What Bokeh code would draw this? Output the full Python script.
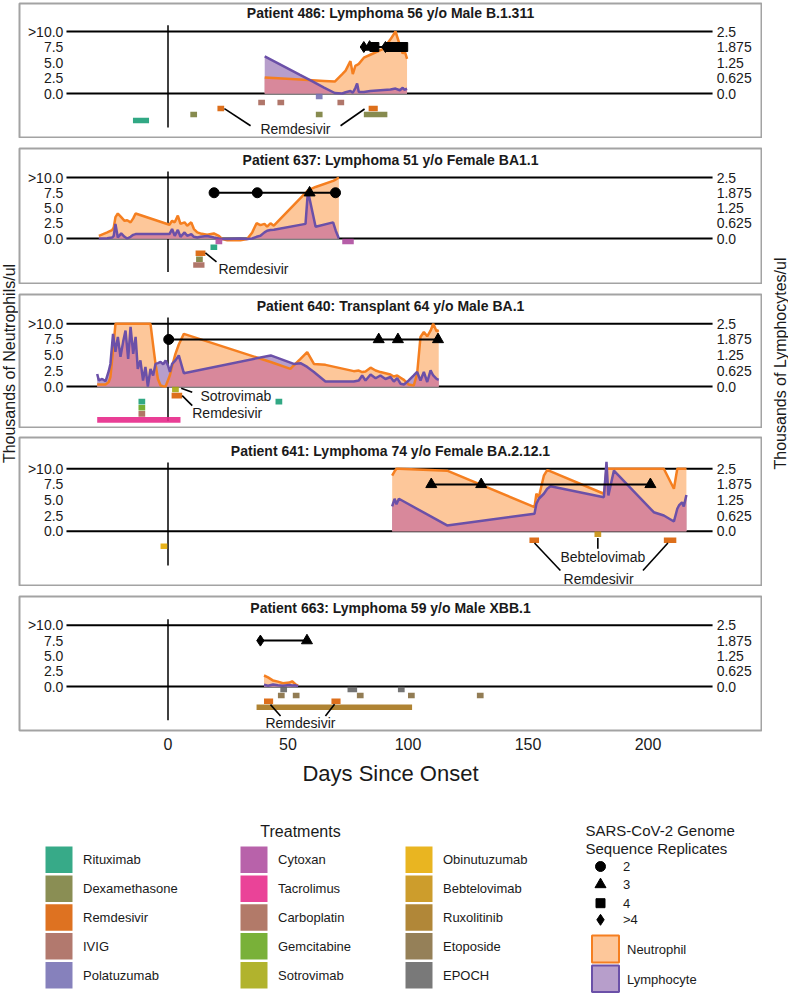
import numpy as np
from bokeh.plotting import figure
from bokeh.layouts import column, row
from bokeh.models import Range1d, FixedTicker
from bokeh.core.properties import value
from bokeh.embed import file_html
from bokeh.resources import INLINE

# ---------------------------------------------------------------- data
TREATMENTS = ["Rituximab", "Dexamethasone", "Remdesivir", "IVIG", "Polatuzumab",
              "Cytoxan", "Tacrolimus", "Carboplatin", "Gemcitabine", "Sotrovimab",
              "Obinutuzumab", "Bebtelovimab", "Ruxolitinib", "Etoposide", "EPOCH"]
TREATMENT_COLORS = ["#1b9e77", "#7a7e3c", "#d95f02", "#a7675a", "#7570b3",
                    "#ae4c9e", "#e7298a", "#a76854", "#66a61e", "#a6a810",
                    "#e6ab02", "#c6900f", "#a6761d", "#866e41", "#666666"]
REPLICATE_LABELS = ["2", "3", "4", ">4"]
REPLICATE_MARKERS = ["circle", "triangle", "square", "diamond"]

X_TICKS = [0, 50, 100, 150, 200]
NEUT_TICK_VALUES = [10, 7.5, 5, 2.5, 0]
NEUT_TICK_LABELS = [">10.0", "7.5", "5.0", "2.5", "0.0"]
LYMPH_TICK_VALUES = [2.5, 1.875, 1.25, 0.625, 0]
LYMPH_TICK_LABELS = ["2.5", "1.875", "1.25", "0.625", "0.0"]
SEQ_LEVEL = 7.5
LYMPH_FACTOR = 4.0  # 10 (neutrophil scale) <-> 2.5 (lymphocyte scale)

PATIENT_IDS = ["486", "637", "640", "641", "663"]
PATIENT_GROUPS = ["Lymphoma", "Lymphoma", "Transplant", "Lymphoma", "Lymphoma"]
PATIENT_AGES = [56, 51, 64, 74, 59]
PATIENT_SEXES = ["Male", "Female", "Male", "Female", "Male"]
PATIENT_LINEAGES = ["B.1.311", "BA1.1", "BA.1", "BA.2.12.1", "XBB.1"]

# Patient 486
P486_DAYS = [40.3, 55.0, 60.0, 65.0, 69.5, 72.6, 74.0, 76.0, 77.0, 78.1,
             78.8, 79.5, 81.6, 84.3, 89.9, 92.7, 94.8, 96.6, 97.8, 98.5, 99.6]
P486_NEUT = [2.58, 2.25, 2.14, 2.03, 1.92, 3.13, 3.68, 5.22, 3.13, 4.50,
             4.60, 4.78, 5.77, 6.25, 7.25, 8.74, 10.0, 7.80, 6.43, 6.98, 5.60]
P486_LYMPH = [1.50, 0.75, 0.50, 0.24, 0.02, 0.00, 0.05, 0.10, 0.03, 0.23,
              0.40, 0.06, 0.06, 0.10, 0.14, 0.16, 0.20, 0.13, 0.23, 0.15, 0.19]
P486_SEQ_DAYS = [81.6, 84.0, 86.0, 90.6, 92.7, 95.8, 98.0]
P486_SEQ_REPS = [">4", "3", "4", ">4", "4", "4", "4"]
P486_TX_ROWS = ["Polatuzumab", "IVIG", "Remdesivir", "Dexamethasone", "Rituximab"]
P486_TX_DRUG = ["Polatuzumab", "IVIG", "IVIG", "IVIG", "Remdesivir", "Remdesivir",
                "Dexamethasone", "Dexamethasone", "Dexamethasone", "Rituximab"]
P486_TX_START = [63.0, 39.0, 47.0, 72.0, 22.0, 85.0, 10.7, 63.0, 83.0, -13.2]
P486_TX_END = [63.0, 39.0, 47.0, 72.0, 22.0, 86.0, 10.7, 63.0, 90.0, -9.3]

# Patient 637
P637_DAYS = [-28.8, -25.3, -23.3, -22.6, -21.9, -20.9, -19.5, -18.1, -17.0, -15.6,
             -14.5, -13.5, 0.6, 1.7, 2.8, 4.1, 5.2, 6.9, 8.0, 9.7,
             10.8, 12.2, 13.5, 16.3, 19.1, 21.2, 22.6, 24.7, 30.2, 33.0,
             35.1, 36.9, 38.5, 40.2, 41.3, 42.7, 44.1, 57.3, 58.3, 61.5,
             68.8, 69.9, 71.2]
P637_NEUT = [0.44, 1.0, 1.38, 1.8, 3.5, 4.1, 3.5, 2.9, 3.0, 2.65,
             3.3, 4.1, 2.26, 2.9, 2.65, 3.75, 2.4, 2.65, 2.1, 2.65,
             1.55, 1.0, 0.83, 0.6, 0.83, 0.44, -0.1, -0.28, -0.28, -0.1,
             1.0, 2.5, 2.2, 2.4, 1.93, 2.5, 2.1, 7.46, 7.9, 8.45,
             9.45, 9.67, 10.0]
P637_LYMPH = [0.0, 0.01, 0.04, 0.11, 0.6, 0.04, 0.21, 0.07, 0.0, 0.07,
              0.15, 0.18, 0.18, 0.39, 0.11, 0.35, 0.07, 0.25, 0.11, 0.18,
              0.07, 0.04, 0.07, 0.10, 0.04, 0.0, -0.02, -0.02, 0.0, -0.02,
              0.0, 0.07, 0.11, 0.25, 0.32, 0.35, 0.36, 0.6, 1.95, 0.48,
              0.66, 0.32, 0.0]
P637_SEQ_DAYS = [19.2, 37.2, 59.0, 69.8]
P637_SEQ_REPS = ["2", "2", "3", "2"]
P637_TX_ROWS = ["Cytoxan", "Rituximab", "Remdesivir", "Dexamethasone", "IVIG"]
P637_TX_DRUG = ["Cytoxan", "Cytoxan", "Rituximab", "Remdesivir", "Dexamethasone", "IVIG"]
P637_TX_START = [21.2, 74.0, 19.1, 12.9, 13.1, 11.9]
P637_TX_END = [21.2, 76.0, 19.1, 14.2, 13.1, 13.8]

# Patient 640
P640_DAYS = [-29.5, -28.8, -27.4, -26.0, -24.7, -24.0, -22.9, -21.9, -20.9, -19.8,
             -18.7, -17.7, -16.6, -15.6, -14.5, -13.5, -12.6, -11.5, -10.4, -9.4,
             -8.4, -7.3, -6.2, -5.2, -4.2, -3.1, -2.0, -1.0, 0.0, 0.8,
             1.7, 3.1, 4.5, 6.6,
             42.8, 51.0, 52.4, 55.2, 58.0, 60.8,
             65.6, 77.4, 79.5, 80.9, 82.3, 84.4, 86.5, 88.5, 90.6, 92.7,
             94.1, 95.5, 96.9, 98.3, 100.3, 102.4, 103.8, 105.2, 106.6, 108.0,
             109.4, 110.5, 111.9, 112.8]
P640_NEUT = [0.32, 0.32, 0.32, 0.32, 0.7, 1.5, 5.7, 10, 10, 10,
             10, 10, 10, 10, 10, 10, 10, 10, 10, 10,
             10, 10, 6.6, 3.6, 1.2, 0.15, 0.05, 0.0, 1.0, 1.8,
             3.2, 5.2, 6.7, 8.4,
             3.9, 2.8, 3.35, 4.4, 5.5, 3.6,
             3.45, 2.45, 2.55, 2.3, 2.4, 3.0, 2.55, 2.3, 2.1, 1.9,
             1.6, 1.75, 1.4, 1.05, 0.32, 0.16, 2.0, 7.9, 8.7, 8.0,
             8.9, 10, 8.8, 9.0]
P640_LYMPH = [0.50, 0.24, 0.30, 0.21, 0.61, 0.90, 2.10, 1.38, 1.98, 1.18,
              1.78, 2.23, 1.10, 2.38, 1.30, 1.98, 0.70, 1.04, 0.24, 0.78,
              0.00, 0.70, 0.44, 0.90, 0.93, 0.98, 0.88, 1.04, 0.84, 0.58,
              0.90, 1.04, 1.24, 0.53,
              1.24, 0.95, 0.90, 0.93, 0.78, 0.58,
              0.20, 0.20, 0.24, 0.44, 0.24, 0.48, 0.33, 0.44, 0.30, 0.38,
              0.20, 0.33, 0.11, 0.08, 0.24, 0.44, 0.58, 0.24, 0.58, 0.18,
              0.64, 0.44, 0.30, 0.26]
P640_SEQ_DAYS = [0.3, 87.8, 95.8, 112.5]
P640_SEQ_REPS = ["2", "3", "3", "3"]
P640_TX_ROWS = ["Sotrovimab", "Remdesivir", "Rituximab", "Gemcitabine", "Carboplatin", "Tacrolimus"]
P640_TX_DRUG = ["Sotrovimab", "Remdesivir", "Rituximab", "Rituximab", "Gemcitabine",
                "Carboplatin", "Tacrolimus"]
P640_TX_START = [3.1, 2.9, -10.9, 46.2, -10.9, -10.9, -28.1]
P640_TX_END = [3.1, 4.5, -10.9, 46.2, -10.9, -10.9, 3.8]

# Patient 641
P641_DAYS = [93.4, 94.4, 95.2, 96.2, 116.3, 152.7, 153.5, 154.5, 156.6, 158.0,
             159.4, 181.6, 182.3, 182.7, 183.5, 184.4, 185.8, 202.4, 206.6, 210.8,
             212.2, 212.9, 214.2, 214.9, 216.0]
P641_NEUT = [8.9, 9.6, 10, 10, 9.7, 3.85, 6.0, 5.45, 8.9, 9.8,
             9.6, 6.0, 8.1, 10, 10, 10, 10, 10, 10, 6.8,
             10, 10, 10, 10, 10]
P641_LYMPH = [0.99, 1.30, 1.08, 1.30, 0.23, 0.70, 1.10, 1.30, 1.50, 1.70,
              1.80, 1.36, 2.23, 2.78, 1.43, 1.83, 2.43, 0.76, 0.63, 0.39,
              0.90, 1.03, 1.16, 0.99, 1.45]
P641_SEQ_DAYS = [109.7, 130.5, 201.0]
P641_SEQ_REPS = ["3", "3", "3"]
P641_TX_ROWS = ["Bebtelovimab", "Remdesivir", "Obinutuzumab"]
P641_TX_DRUG = ["Bebtelovimab", "Remdesivir", "Remdesivir", "Obinutuzumab"]
P641_TX_START = [179.1, 152.0, 208.0, -1.7]
P641_TX_END = [179.1, 153.2, 210.4, -1.7]

# Patient 663
P663_DAYS = [40.0, 41.7, 43.8, 45.8, 47.9, 50.6, 51.7, 53.1, 54.2]
P663_NEUT = [1.8, 1.5, 0.97, 0.8, 0.54, 0.65, 0.86, 0.38, 0.1]
P663_LYMPH = [0.07, 0.03, 0.08, 0.05, 0.03, 0.06, 0.04, 0.05, 0.01]
P663_SEQ_DAYS = [38.5, 57.9]
P663_SEQ_REPS = [">4", "3"]
P663_TX_ROWS = ["EPOCH", "Etoposide", "Remdesivir", "Ruxolitinib"]
P663_TX_DRUG = ["EPOCH", "EPOCH", "EPOCH", "Etoposide", "Etoposide", "Etoposide",
                "Etoposide", "Etoposide", "Remdesivir", "Remdesivir", "Ruxolitinib"]
P663_TX_START = [48.2, 76.2, 97.2, 47.2, 53.4, 80.1, 101.4, 130.1, 41.4, 69.5, 38.3]
P663_TX_END = [48.2, 77.4, 97.2, 47.2, 53.4, 80.1, 101.4, 130.1, 42.4, 70.5, 100.3]

# ---------------------------------------------------------------- annotations (layout)
ANN_TEXT = [
    [("Remdesivir", 53.1, -5.7, "center")],
    [("Remdesivir", 21.0, -5.0, "left")],
    [("Sotrovimab", 13.5, -1.45, "left"), ("Remdesivir", 10.1, -4.3, "left")],
    [("Bebtelovimab", 181.2, -4.2, "center"), ("Remdesivir", 179.4, -7.6, "center")],
    [("Remdesivir", 55.2, -5.9, "center")],
]
ANN_SEG = [
    [(23.5, -2.45, 34.4, -5.2), (81.9, -2.5, 71.9, -5.2)],
    [(15.6, -2.37, 20.2, -3.82)],
    [(5.5, -0.27, 10.1, -0.92), (5.9, -1.45, 10.1, -3.06)],
    [(179.1, -1.07, 179.1, -2.8), (152.7, -1.9, 163.5, -6.3), (208.3, -1.9, 197.9, -6.3)],
    [(42.7, -2.95, 46.9, -4.8), (69.4, -2.9, 65.6, -4.8)],
]

# ---------------------------------------------------------------- style / layout (page pixels)
FONT = "Liberation Sans"
PEACH = "#fdc79a"
LYMPH_FILL = "#b79ecb"
PINK = "#d8889b"
ORANGE = "#f57f20"
PURPLE = "#6b50a8"
BORDER = "#a3a3a3"
TXT = "#1a1a1a"

PANEL_W = 744
FIG_TOP = [0, 138, 284, 428, 586]
BOX_TOP = [2, 147, 293, 436, 595]
BOX_BOT = [138, 284, 428, 586, 732]
FIG_BOT = [138, 284, 428, 586, 788]
LINE10_Y = [31, 177, 323.3, 468.3, 625]
ZERO_Y = [93, 238, 386, 530.7, 686.7]
TITLE_Y = [12, 159, 305, 450, 608]
X_START, X_END = -61.875, 247.29
HLINE_X0, HLINE_X1 = -42.3, 226.9
LBL_L, LBL_R = -43.6, 228.6
VLINE_TOP, VLINE_BOTTOM = 11.0, -5.5
ROW0, ROW_STEP, ROW_H, PAD = 0.48, 0.97, 0.9, 1.4
MARKER_SIZES = {"circle": 10, "triangle": 11, "square": 9, "diamond": 11}


def overlap_curve(x, a, b):
    xs, ys = [], []
    for i in range(len(x)):
        if i > 0:
            d0 = a[i - 1] - b[i - 1]
            d1 = a[i] - b[i]
            if d0 * d1 < 0:
                t = d0 / (d0 - d1)
                xs.append(x[i - 1] + t * (x[i] - x[i - 1]))
                ys.append(max(0.0, a[i - 1] + t * (a[i] - a[i - 1])))
        xs.append(x[i])
        ys.append(max(0.0, min(a[i], b[i])))
    return xs, ys


def build_panel(k, days, neut, lymph, seq_days, seq_reps, tx_rows, tx_drug, tx_start, tx_end):
    bottom_axis = (k == 4)
    scale = (ZERO_Y[k] - LINE10_Y[k]) / 10.0
    frame_top = BOX_TOP[k] + 1
    frame_bot = BOX_BOT[k] - 1
    ye = 10 + (LINE10_Y[k] - frame_top) / scale
    ys = ye - (frame_bot - frame_top) / scale
    p = figure(width=PANEL_W, height=FIG_BOT[k] - FIG_TOP[k], x_range=Range1d(X_START, X_END),
               y_range=Range1d(ys, ye), output_backend="svg", toolbar_location=None,
               min_border=1, x_axis_location=("below" if bottom_axis else None),
               y_axis_location=None)
    p.min_border_top = frame_top - FIG_TOP[k]
    p.min_border_bottom = FIG_BOT[k] - frame_bot
    p.extra_y_ranges = {"lymph": Range1d(ys / LYMPH_FACTOR, ye / LYMPH_FACTOR)}
    p.grid.visible = False
    p.outline_line_color = BORDER
    p.outline_line_width = 2
    p.background_fill_color = "white"
    p.border_fill_color = "white"

    # reference lines
    p.segment(x0=[HLINE_X0, HLINE_X0], y0=[0, 10], x1=[HLINE_X1, HLINE_X1], y1=[0, 10],
              line_color="black", line_width=2)
    p.segment(x0=[0], y0=[VLINE_TOP], x1=[0], y1=[VLINE_BOTTOM], line_color="black", line_width=1.5)

    # counts
    d = np.array(days, dtype=float)
    n = np.array(neut, dtype=float)
    l = np.array(lymph, dtype=float)
    p.varea(x=d, y1=0, y2=n, fill_color=PEACH)
    p.varea(x=d, y1=0, y2=l, fill_color=LYMPH_FILL, y_range_name="lymph")
    ox, oy = overlap_curve(list(d), list(n), list(l * LYMPH_FACTOR))
    p.varea(x=ox, y1=0, y2=oy, fill_color=PINK)
    p.line(d, n, line_color=ORANGE, line_width=2.5)
    p.line(d, l, line_color=PURPLE, line_width=2.5, y_range_name="lymph")

    # treatments
    rows_idx = [tx_rows.index(dr) for dr in tx_drug]
    centers = np.array([-(ROW0 + ROW_STEP * r) for r in rows_idx])
    colors = [TREATMENT_COLORS[TREATMENTS.index(dr)] for dr in tx_drug]
    p.quad(left=np.array(tx_start) - PAD, right=np.array(tx_end) + PAD,
           top=centers + ROW_H / 2, bottom=centers - ROW_H / 2,
           fill_color=colors, fill_alpha=0.9, line_color=None)

    # annotations
    for (x0, y0, x1, y1) in ANN_SEG[k]:
        p.segment(x0=[x0], y0=[y0], x1=[x1], y1=[y1], line_color="black", line_width=1.6)
    for (txt, x, y, al) in ANN_TEXT[k]:
        p.text(x=[x], y=[y], text=[txt], text_align=al, text_baseline="middle",
               text_font=value(FONT), text_font_size="14px", text_color=TXT)

    # sequencing
    p.line(x=[min(seq_days), max(seq_days)], y=[SEQ_LEVEL, SEQ_LEVEL], line_color="black", line_width=2)
    mk = [REPLICATE_MARKERS[REPLICATE_LABELS.index(r)] for r in seq_reps]
    p.scatter(x=seq_days, y=[SEQ_LEVEL] * len(seq_days), marker=mk,
              size=[MARKER_SIZES[m] for m in mk], fill_color="black", line_color="black")

    # tick labels inside the box
    p.text(x=[LBL_L] * 5, y=NEUT_TICK_VALUES, text=NEUT_TICK_LABELS, text_align="right",
           text_baseline="middle", text_font=value(FONT), text_font_size="14px", text_color=TXT)
    p.text(x=[LBL_R] * 5, y=LYMPH_TICK_VALUES, text=LYMPH_TICK_LABELS, text_align="left",
           text_baseline="middle", text_font=value(FONT), text_font_size="14px", text_color=TXT,
           y_range_name="lymph")

    # title
    title = "Patient %s: %s %d y/o %s %s" % (PATIENT_IDS[k], PATIENT_GROUPS[k], PATIENT_AGES[k],
                                             PATIENT_SEXES[k], PATIENT_LINEAGES[k])
    p.text(x=[(X_START + X_END) / 2], y=[ye - (TITLE_Y[k] - frame_top) / scale], text=[title],
           text_align="center", text_baseline="middle", text_font=value(FONT),
           text_font_style="bold", text_font_size="14px", text_color=TXT)

    if bottom_axis:
        ax = p.xaxis[0]
        ax.ticker = FixedTicker(ticks=X_TICKS)
        ax.axis_line_color = None
        ax.major_tick_line_color = None
        ax.minor_tick_line_color = None
        ax.major_tick_out = 0
        ax.major_tick_in = 0
        ax.minor_tick_out = 0
        ax.minor_tick_in = 0
        ax.major_label_standoff = 7
        ax.major_label_text_font = FONT
        ax.major_label_text_font_size = "16px"
        ax.major_label_text_color = TXT
        ax.axis_label = "Days Since Onset"
        ax.axis_label_standoff = 8
        ax.axis_label_text_font = FONT
        ax.axis_label_text_font_size = "22px"
        ax.axis_label_text_font_style = "normal"
        ax.axis_label_text_color = TXT
    return p


PANEL_DATA = [
    (P486_DAYS, P486_NEUT, P486_LYMPH, P486_SEQ_DAYS, P486_SEQ_REPS, P486_TX_ROWS, P486_TX_DRUG, P486_TX_START, P486_TX_END),
    (P637_DAYS, P637_NEUT, P637_LYMPH, P637_SEQ_DAYS, P637_SEQ_REPS, P637_TX_ROWS, P637_TX_DRUG, P637_TX_START, P637_TX_END),
    (P640_DAYS, P640_NEUT, P640_LYMPH, P640_SEQ_DAYS, P640_SEQ_REPS, P640_TX_ROWS, P640_TX_DRUG, P640_TX_START, P640_TX_END),
    (P641_DAYS, P641_NEUT, P641_LYMPH, P641_SEQ_DAYS, P641_SEQ_REPS, P641_TX_ROWS, P641_TX_DRUG, P641_TX_START, P641_TX_END),
    (P663_DAYS, P663_NEUT, P663_LYMPH, P663_SEQ_DAYS, P663_SEQ_REPS, P663_TX_ROWS, P663_TX_DRUG, P663_TX_START, P663_TX_END),
]
panels = [build_panel(k, *PANEL_DATA[k]) for k in range(5)]
STACK_H = FIG_BOT[-1] - FIG_TOP[0]


def label_fig(width, text, xc, yc):
    f = figure(width=width, height=STACK_H, x_range=Range1d(0, width), y_range=Range1d(STACK_H, 0),
               output_backend="svg", toolbar_location=None, min_border=0,
               x_axis_location=None, y_axis_location=None)
    f.grid.visible = False
    f.outline_line_color = None
    f.text(x=[xc], y=[yc], text=[text], angle=np.pi / 2, text_align="center",
           text_baseline="middle", text_font=value(FONT), text_font_size="16px", text_color=TXT)
    return f


left_fig = label_fig(18, "Thousands of Neutrophils/ul", 9, 363)
right_fig = label_fig(26, "Thousands of Lymphocytes/ul", 18, 363)

# ---------------------------------------------------------------- legend
LEG_TOP, LEG_BOTTOM = 788, 993
lg = figure(width=788, height=LEG_BOTTOM - LEG_TOP, x_range=Range1d(0, 788),
            y_range=Range1d(LEG_BOTTOM, LEG_TOP), output_backend="svg", toolbar_location=None,
            min_border=0, x_axis_location=None, y_axis_location=None)
lg.grid.visible = False
lg.outline_line_color = None

LEG_COL_X = [45, 240, 405]
LEG_ROW_Y0, LEG_ROW_STEP = 859.3, 28.85
SW, SH = 27, 26.5
sx = [LEG_COL_X[i // 5] for i in range(len(TREATMENTS))]
sy = [LEG_ROW_Y0 + LEG_ROW_STEP * (i % 5) for i in range(len(TREATMENTS))]
lg.quad(left=sx, right=[x + SW for x in sx], top=[y - SH / 2 for y in sy],
        bottom=[y + SH / 2 for y in sy], fill_color=TREATMENT_COLORS, fill_alpha=0.88, line_color=None)
lg.text(x=[x + 37.5 for x in sx], y=sy, text=TREATMENTS, text_align="left", text_baseline="middle",
        text_font=value(FONT), text_font_size="13px", text_color=TXT)
lg.text(x=[300], y=[831], text=["Treatments"], text_align="center", text_baseline="middle",
        text_font=value(FONT), text_font_size="16px", text_color=TXT)

lg.text(x=[585, 585], y=[830, 848], text=["SARS-CoV-2 Genome", "Sequence Replicates"],
        text_align="left", text_baseline="middle", text_font=value(FONT), text_font_size="15px",
        text_color=TXT)
REP_Y = [866, 884, 902.7, 919.3]
lg.scatter(x=[600] * 4, y=REP_Y, marker=REPLICATE_MARKERS,
           size=[MARKER_SIZES[m] for m in REPLICATE_MARKERS], fill_color="black", line_color="black")
lg.text(x=[622.5] * 4, y=REP_Y, text=REPLICATE_LABELS, text_align="left", text_baseline="middle",
        text_font=value(FONT), text_font_size="13px", text_color=TXT)

lg.quad(left=[591.5], right=[618.5], top=[935], bottom=[962], fill_color=PEACH,
        line_color=ORANGE, line_width=2)
lg.quad(left=[591.5], right=[618.5], top=[965], bottom=[991.5], fill_color=LYMPH_FILL,
        line_color=PURPLE, line_width=2)
lg.text(x=[626.5, 626.5], y=[949, 979], text=["Neutrophil", "Lymphocyte"], text_align="left",
        text_baseline="middle", text_font=value(FONT), text_font_size="13px", text_color=TXT)

layout = column(row(left_fig, column(*panels), right_fig), lg)
open("out.html", "w").write(file_html(layout, INLINE, title="Patient timelines"))
